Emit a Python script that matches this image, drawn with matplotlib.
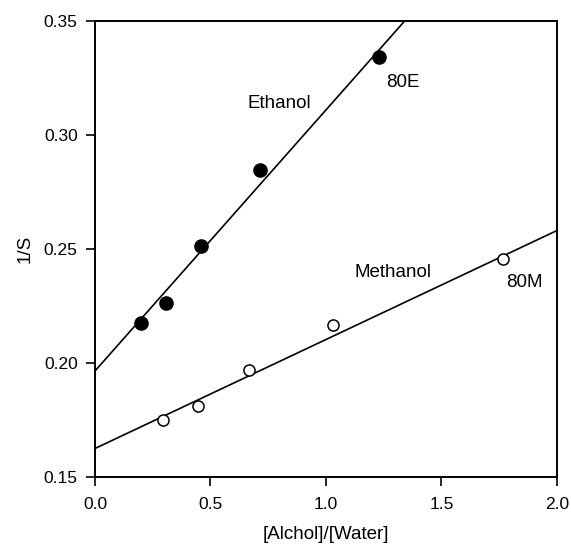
import numpy as np
import matplotlib.pyplot as plt

plt.rcParams['font.family'] = ['Liberation Sans', 'DejaVu Sans']

# ethanol (filled) and methanol (open) points
eth_x = [0.20, 0.306, 0.46, 0.716, 1.228]
eth_y = [0.2175, 0.2265, 0.2515, 0.2845, 0.334]
meth_x = [0.294, 0.445, 0.665, 1.031, 1.767]
meth_y = [0.175, 0.181, 0.197, 0.2165, 0.2455]

# fitted lines: slope, intercept
eth_fit = [0.1145, 0.1965]
meth_fit = [0.0478, 0.1625]

xticks = [0.0, 0.5, 1.0, 1.5, 2.0]
yticks = [0.15, 0.20, 0.25, 0.30, 0.35]

fig = plt.figure(figsize=(5.71, 5.47), dpi=100)
ax = fig.add_axes([0.1664, 0.128, 0.809, 0.8336])

xx = np.array([0.0, 2.0])
ax.plot(xx, eth_fit[0] * xx + eth_fit[1], color='black', lw=1.2)
ax.plot(xx, meth_fit[0] * xx + meth_fit[1], color='black', lw=1.2)

ax.plot(eth_x, eth_y, 'o', color='black', markersize=9.5, zorder=3)
ax.plot(meth_x, meth_y, 'o', markerfacecolor='white', markeredgecolor='black',
        markeredgewidth=1.1, markersize=8, zorder=3)

ax.text(0.66, 0.314, 'Ethanol', fontsize=13.5, va='center')
ax.text(1.26, 0.323, '80E', fontsize=13.5, va='center')
ax.text(1.125, 0.2395, 'Methanol', fontsize=13.5, va='center')
ax.text(1.78, 0.2355, '80M', fontsize=13.5, va='center')

ax.set_xlim(0, 2.0)
ax.set_ylim(0.15, 0.35)
ax.set_xticks(xticks)
ax.set_yticks(yticks)
ax.set_xticklabels(['%.1f' % t for t in xticks])
ax.set_yticklabels(['%.2f' % t for t in yticks])
ax.tick_params(direction='out', length=6.5, width=1.2, labelsize=12.5)
ax.tick_params(axis='x', pad=8)
ax.tick_params(axis='y', pad=6)
for s in ax.spines.values():
    s.set_linewidth(1.4)

ax.set_xlabel('[Alchol]/[Water]', fontsize=13.5, labelpad=10)
ax.set_ylabel('1/S', fontsize=13.5, labelpad=7)

fig.savefig('out.png', dpi=100)
